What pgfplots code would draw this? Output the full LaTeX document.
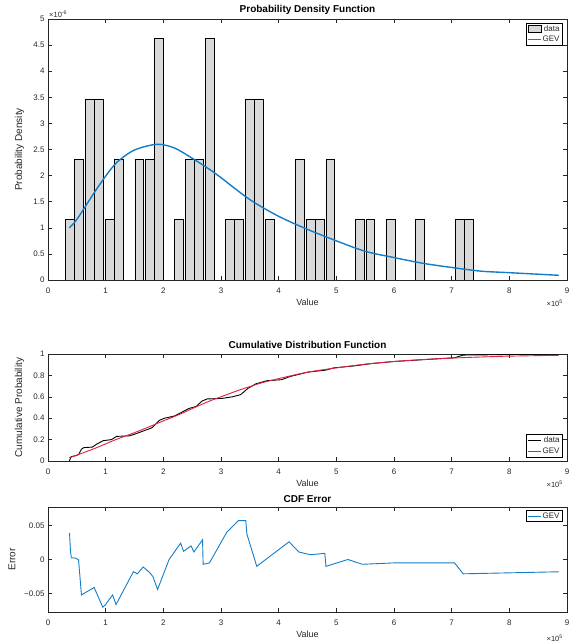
\documentclass[border=0pt]{standalone}
\usepackage{fontspec}
\setmainfont{Liberation Sans}
\usepackage{pgfplots}
\pgfplotsset{compat=1.18}
\definecolor{mblue}{RGB}{20,125,200}
\definecolor{mred}{RGB}{228,30,60}
\definecolor{bargray}{RGB}{217,217,217}
\definecolor{axgray}{RGB}{38,38,38}
\tikzset{expnode/.style={anchor=north east, font=\fontsize{7.5}{8}\selectfont, text=axgray, inner sep=1pt}}
\pgfplotsset{
  myaxis/.style={
    scale only axis, width=519pt, anchor=north west, clip mode=individual,
    xmin=0, xmax=9, xtick={0,1,2,3,4,5,6,7,8,9},
    scaled ticks=false,
    axis line style={axgray, line width=0.5pt},
    tick style={axgray, line width=0.5pt}, major tick length=4pt,
    tick label style={font=\fontsize{8}{9}\selectfont, text=axgray},
    xticklabel style={yshift=-4pt},
    /pgf/number format/assume math mode=true,
    xlabel=Value,
    label style={font=\fontsize{10}{11}\selectfont, text=axgray},
    xlabel style={font=\fontsize{9}{10}\selectfont, at={(axis description cs:0.5,0)}, anchor=center, yshift=-22pt},
    title style={font=\bfseries\fontsize{10}{11}\selectfont, text=black, at={(axis description cs:0.5,1)}, anchor=south},
    legend style={font=\fontsize{8}{8.5}\selectfont, draw=black, line width=0.5pt, inner sep=1pt, row sep=1pt, text=axgray,
      nodes={inner sep=1.2pt}},
    legend cell align=right,
  },
  linelegend/.style={legend image code/.code={\draw[##1] (0pt,0pt) -- (13pt,0pt);}},
  barlegend/.style={legend image code/.code={\draw[##1] (0pt,-3pt) rectangle (13pt,3.5pt);}},
}
\begin{document}
\begin{tikzpicture}
\useasboundingbox (0,0) rectangle (580pt,-642pt);
% ---------------- PDF ----------------
\begin{axis}[myaxis, at={(48pt,-19pt)}, height=261pt,
  ymin=0, ymax=5, ytick={0,0.5,1,1.5,2,2.5,3,3.5,4,4.5,5},
  ylabel={Probability Density},
  ylabel style={at={(axis description cs:-0.039,0.5)}, anchor=south},
  title={Probability Density Function},
  title style={yshift=-5.5pt},
  legend style={at={(1,1)}, anchor=north east, xshift=-5pt, yshift=-4pt}]
\addplot[ybar, bar width=0.152, fill=bargray, draw=black, line width=0.5pt, barlegend] coordinates {
(0.380,1.157) (0.533,2.314) (0.727,3.471) (0.881,3.471) (1.070,1.157) (1.228,2.314)
(1.582,2.314) (1.765,2.314) (1.925,4.628) (2.269,1.157) (2.459,2.314) (2.614,2.314)
(2.806,4.628) (3.153,1.157) (3.308,1.157) (3.504,3.471) (3.661,3.471) (3.844,1.157)
(4.362,2.314) (4.552,1.157) (4.706,1.157) (4.895,2.314) (5.407,1.157) (5.587,1.157)
(5.943,1.157) (6.445,1.157) (7.142,1.157) (7.297,1.157)};
\addlegendentry{data}
\addplot[mblue, line width=1.4pt, smooth, linelegend] coordinates {
(0.37,1.00) (0.50,1.16) (0.80,1.67) (1.00,1.99) (1.20,2.26) (1.50,2.49) (1.89,2.60)
(2.19,2.53) (2.49,2.34) (2.80,2.12) (3.00,1.96) (3.50,1.54) (4.00,1.22) (4.50,0.97)
(5.00,0.75) (5.50,0.55) (6.00,0.43) (6.50,0.32) (7.00,0.24) (7.50,0.17) (8.00,0.14) (8.86,0.09)};
\addlegendentry{GEV}
\node[anchor=south west, font=\fontsize{7.5}{8}\selectfont, text=axgray, inner sep=1pt] at (rel axis cs:0,1) {×10\textsuperscript{-6}};
\node[expnode] at (rel axis cs:1,0) [xshift=-3pt, yshift=-19pt] {×10\textsuperscript{5}};
\end{axis}
% ---------------- CDF ----------------
\begin{axis}[myaxis, at={(48pt,-354pt)}, height=107pt,
  ymin=0, ymax=1, ytick={0,0.2,0.4,0.6,0.8,1},
  ylabel={Cumulative Probability},
  ylabel style={at={(axis description cs:-0.039,0.5)}, anchor=south},
  title={Cumulative Distribution Function},
  title style={yshift=-4.5pt},
  legend style={at={(1,0)}, anchor=south east, xshift=-5pt, yshift=4pt}]
\addplot[black, line width=0.9pt, linelegend] coordinates {
(0.37,0) (0.40,0.04) (0.48,0.05) (0.53,0.06) (0.58,0.11) (0.62,0.125) (0.77,0.13)
(0.85,0.16) (0.96,0.19) (1.10,0.20) (1.19,0.23) (1.41,0.235) (1.50,0.25) (1.60,0.27)
(1.70,0.29) (1.80,0.31) (1.93,0.38) (2.02,0.40) (2.19,0.42) (2.30,0.45) (2.44,0.49)
(2.57,0.51) (2.67,0.56) (2.76,0.58) (3.02,0.585) (3.20,0.60) (3.34,0.62) (3.47,0.68)
(3.60,0.72) (3.79,0.75) (4.05,0.76) (4.20,0.79) (4.50,0.83) (4.82,0.85) (4.95,0.87)
(5.33,0.89) (5.60,0.91) (6.00,0.93) (6.45,0.945) (7.05,0.965) (7.20,0.99) (8.86,1.0)};
\addlegendentry{data}
\addplot[mred, line width=0.9pt, smooth, linelegend] coordinates {
(0.37,0.03) (0.50,0.055) (0.60,0.075) (0.80,0.115) (1.00,0.16) (1.20,0.205) (1.50,0.265)
(1.80,0.33) (2.00,0.375) (2.30,0.44) (2.50,0.49) (2.80,0.56) (3.00,0.60) (3.30,0.66)
(3.50,0.695) (3.70,0.73) (4.00,0.77) (4.50,0.83) (5.00,0.87) (5.50,0.905) (6.00,0.93)
(6.50,0.948) (7.00,0.962) (7.50,0.972) (8.00,0.98) (8.86,0.988)};
\addlegendentry{GEV}
\node[expnode] at (rel axis cs:1,0) [xshift=-3pt, yshift=-19pt] {×10\textsuperscript{5}};
\end{axis}
% ---------------- Error ----------------
\begin{axis}[myaxis, at={(48pt,-507pt)}, height=105pt,
  ymin=-0.077, ymax=0.077, ytick={-0.05,0,0.05}, yticklabels={−0.05,0,0.05},
  ylabel={Error},
  ylabel style={at={(axis description cs:-0.056,0.5)}, anchor=south},
  title={CDF Error},
  title style={yshift=-5.5pt},
  legend style={at={(1,1)}, anchor=north east, xshift=-5pt, yshift=-3pt}]
\addplot[mblue, line width=0.9pt, linelegend] coordinates {
(0.373,0.039) (0.39,0.012) (0.405,0.0025) (0.48,0.002) (0.53,-0.0005) (0.58,-0.052)
(0.80,-0.041) (0.95,-0.070) (1.00,-0.066) (1.12,-0.052) (1.18,-0.066) (1.48,-0.018)
(1.55,-0.021) (1.65,-0.011) (1.75,-0.018) (1.82,-0.025) (1.90,-0.044) (2.10,0.0)
(2.30,0.024) (2.35,0.012) (2.48,0.020) (2.53,0.011) (2.68,0.029) (2.69,-0.007)
(2.80,-0.005) (3.10,0.040) (3.30,0.057) (3.43,0.057) (3.45,0.037) (3.62,-0.010)
(4.18,0.026) (4.35,0.011) (4.55,0.007) (4.80,0.009) (4.82,-0.010) (5.20,0.0)
(5.45,-0.007) (6.00,-0.005) (7.05,-0.005) (7.20,-0.021) (8.86,-0.018)};
\addlegendentry{GEV}
\node[expnode] at (rel axis cs:1,0) [xshift=-3pt, yshift=-22pt] {×10\textsuperscript{5}};
\end{axis}
\end{tikzpicture}
\end{document}
